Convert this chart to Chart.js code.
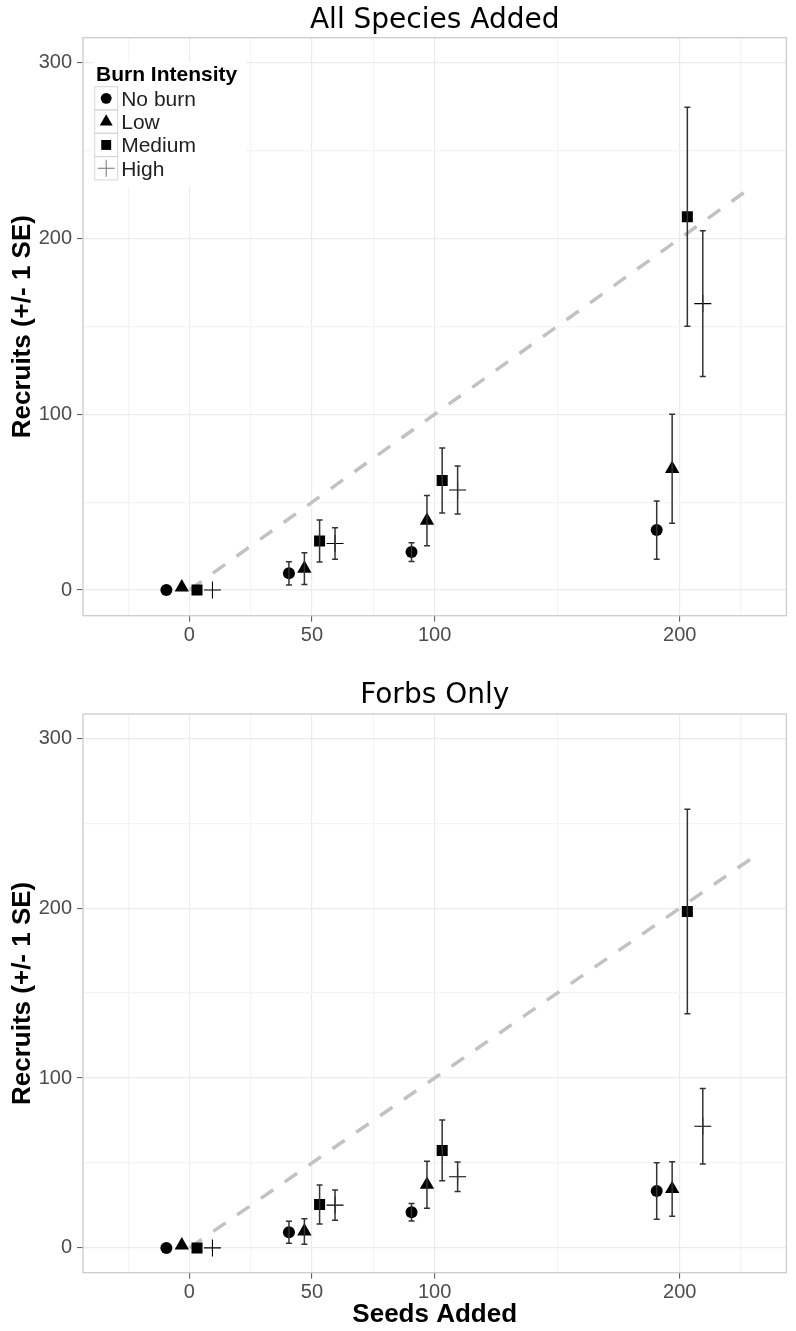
<!DOCTYPE html>
<html>
<head>
<meta charset="utf-8">
<script src="https://cdn.jsdelivr.net/npm/chart.js@4.4.1/dist/chart.umd.min.js"></script>
<style>
  html, body { margin: 0; padding: 0; background: #fff; }
  #wrap { position: relative; width: 796px; height: 1331px; }
  canvas { position: absolute; left: 0; }
</style>
</head>
<body>
<div id="wrap">
  <canvas id="allChart" width="796" height="650" style="top:0"></canvas>
  <canvas id="forbChart" width="796" height="681" style="top:650px"></canvas>
</div>
<script>
// x = seeds added, y = recruits; one value per seed level
const seedLevels = [0, 50, 100, 200];
const burnLevels = ['No burn', 'Low', 'Medium', 'High'];
const xTickLabels = [0, 50, 100, 200];
const xGridValues = [-25, 0, 25, 50, 75, 100, 150, 200, 225];
const yTickLabels = [0, 100, 200, 300];
const yGridValues = [0, 50, 100, 150, 200, 250, 300];
const oneToOneX = [0, 230];

// All species added
const allNoBurn = [0, 9.5, 21.6, 34.1];
const allNoBurnSE = [0, 6.6, 5.3, 16.6];
const allLow = [1.5, 12.2, 39.5, 69];
const allLowSE = [0, 9, 14.3, 31];
const allMedium = [0, 27.9, 62.3, 212.4];
const allMediumSE = [0, 12, 18.5, 62.3];
const allHigh = [0, 26.5, 56.9, 163];
const allHighSE = [0, 9, 13.7, 41.5];

// Forbs only
const forbNoBurn = [0, 9.2, 21, 33.5];
const forbNoBurnSE = [0, 6.5, 5.2, 16.6];
const forbLow = [1.5, 9.7, 37.2, 34.7];
const forbLowSE = [0, 7.5, 13.8, 16];
const forbMedium = [0, 25.5, 57.4, 198];
const forbMediumSE = [0, 11.5, 17.9, 60.2];
const forbHigh = [0, 25.2, 41.9, 71.6];
const forbHighSE = [0, 8.9, 8.7, 22.2];

// dodge so the four burn levels sit side by side
const dodge = [-9.4, -3.1, 3.1, 9.4];
const markers = [
    { style: 'circle', radius: 6 },
    { style: 'triangle', radius: 8.3 },
    { style: 'rect', radius: 7.8 },
    { style: 'cross', radius: 8.5 }
];

const TICK_FONT = { family: '"Liberation Sans", Arial, sans-serif', size: 20 };
const AXIS_TITLE_FONT = { family: '"Liberation Sans", Arial, sans-serif', size: 26, weight: 'bold' };

// panel border on top of the grid
const panelBorder = {
    id: 'panelBorder',
    beforeDatasetsDraw(chart) {
        const { ctx, chartArea: a } = chart;
        ctx.save();
        ctx.strokeStyle = '#cccccc';
        ctx.lineWidth = 1.3;
        ctx.strokeRect(a.left, a.top, a.right - a.left, a.bottom - a.top);
        ctx.restore();
    }
};

// +/- 1 SE error bars, read from dataset.se
const errorBars = {
    id: 'errorBars',
    afterDatasetsDraw(chart) {
        const { ctx, scales: { x, y } } = chart;
        ctx.save();
        ctx.strokeStyle = '#333333';
        ctx.lineWidth = 1.5;
        chart.data.datasets.forEach(ds => {
            if (!ds.se) return;
            ds.data.forEach((p, j) => {
                const se = ds.se[j];
                if (!se) return;
                const px = x.getPixelForValue(p.x);
                const top = y.getPixelForValue(p.y + se);
                const bot = y.getPixelForValue(p.y - se);
                ctx.beginPath();
                ctx.moveTo(px, top);
                ctx.lineTo(px, bot);
                ctx.moveTo(px - 3, top);
                ctx.lineTo(px + 3, top);
                ctx.moveTo(px - 3, bot);
                ctx.lineTo(px + 3, bot);
                ctx.stroke();
            });
        });
        ctx.restore();
    }
};

function drawMarker(ctx, style, radius, x, y) {
    if (Chart.helpers && Chart.helpers.drawPoint) {
        Chart.helpers.drawPoint(ctx, { pointStyle: style, radius: radius, rotation: 0, borderWidth: style === 'cross' ? 1 : 0 }, x, y);
        return;
    }
    ctx.beginPath();
    ctx.arc(x, y, radius, 0, Math.PI * 2);
    ctx.fill();
}

// legend drawn inside the panel, top left
const burnLegend = {
    id: 'burnLegend',
    afterDatasetsDraw(chart, args, opts) {
        if (!opts.show) return;
        const { ctx, chartArea: a } = chart;
        const bx = a.left + 11.7;
        const by = a.top + 49;
        const rowH = 23.3;
        ctx.save();
        ctx.fillStyle = '#ffffff';
        ctx.fillRect(a.left + 10, a.top + 24, 153, 125);
        ctx.fillStyle = '#000';
        ctx.font = 'bold 21px "Liberation Sans", Arial, sans-serif';
        ctx.textBaseline = 'alphabetic';
        ctx.fillText(opts.title, a.left + 13, a.top + 43.5);
        chart.data.datasets.filter(ds => ds.se).forEach((ds, k) => {
            const y0 = by + k * rowH;
            ctx.strokeStyle = '#d6d6d6';
            ctx.lineWidth = 1;
            ctx.strokeRect(bx, y0, 23, rowH);
            const cx = bx + 11.5, cy = y0 + rowH / 2;
            ctx.fillStyle = '#000';
            ctx.strokeStyle = ds.pointStyle === 'cross' ? '#777' : '#000';
            drawMarker(ctx, ds.pointStyle, ds.pointStyle === 'cross' ? 8.5 : ds.pointRadius * 0.9, cx, cy);
            ctx.fillStyle = '#222';
            ctx.font = '21px "Liberation Sans", Arial, sans-serif';
            ctx.fillText(ds.label, bx + 26.5, cy + 7.5);
        });
        ctx.restore();
    }
};

function buildChart(canvasId, titleText, means, ses, cfg) {
    const datasets = burnLevels.map((name, i) => ({
        label: name,
        data: seedLevels.map((s, j) => ({ x: s + dodge[i], y: means[i][j] })),
        se: ses[i],
        pointStyle: markers[i].style,
        pointRadius: markers[i].radius,
        pointHoverRadius: markers[i].radius,
        backgroundColor: '#000',
        borderColor: '#000',
        pointBorderWidth: markers[i].style === 'cross' ? 1.1 : 0,
        showLine: false,
        order: 1
    }));
    datasets.push({
        label: 'one to one',
        data: oneToOneX.map(v => ({ x: v, y: v })),
        showLine: true,
        borderColor: '#c2c2c2',
        borderWidth: 3.5,
        borderDash: [15, 14],
        pointRadius: 0,
        order: 2
    });

    const ctx = document.getElementById(canvasId).getContext('2d');
    return new Chart(ctx, {
        type: 'scatter',
        data: { datasets: datasets },
        plugins: [panelBorder, errorBars, burnLegend],
        options: {
            responsive: false,
            animation: false,
            devicePixelRatio: 1,
            layout: { padding: { left: 0, right: 5.3, top: 0, bottom: 0 } },
            plugins: {
                legend: { display: false },
                tooltip: { enabled: false },
                title: {
                    display: true,
                    fullSize: false,
                    text: titleText,
                    color: '#000',
                    font: { family: '"DejaVu Sans", sans-serif', size: 28, weight: 'normal' },
                    padding: cfg.titlePadding
                },
                burnLegend: { show: cfg.legend, title: 'Burn Intensity' }
            },
            scales: {
                x: {
                    type: 'linear',
                    min: -43.4,
                    max: 243.5,
                    afterBuildTicks: s => { s.ticks = xGridValues.map(v => ({ value: v })); },
                    afterFit: s => { s.height = cfg.xAxisHeight; },
                    ticks: {
                        autoSkip: false,
                        maxRotation: 0,
                        padding: 2,
                        color: '#4d4d4d',
                        font: TICK_FONT,
                        callback: v => xTickLabels.includes(v) ? String(v) : ''
                    },
                    grid: {
                        color: c => (c.tick && xTickLabels.includes(c.tick.value)) ? '#ebebeb' : '#f4f4f4',
                        lineWidth: 1.2,
                        tickLength: 6,
                        tickWidth: 1,
                        tickColor: c => (c.tick && xTickLabels.includes(c.tick.value)) ? '#555' : 'rgba(0,0,0,0)'
                    },
                    border: { display: false },
                    title: {
                        display: !!cfg.xTitle,
                        text: cfg.xTitle || '',
                        color: '#000',
                        font: AXIS_TITLE_FONT,
                        padding: { top: 0, bottom: 1 }
                    }
                },
                y: {
                    type: 'linear',
                    min: -14.6,
                    max: 314.3,
                    afterBuildTicks: s => { s.ticks = yGridValues.map(v => ({ value: v })); },
                    afterFit: s => { s.width = 83; },
                    ticks: {
                        autoSkip: false,
                        padding: 5,
                        color: '#4d4d4d',
                        font: TICK_FONT,
                        callback: v => yTickLabels.includes(v) ? String(v) : ''
                    },
                    grid: {
                        color: c => (c.tick && yTickLabels.includes(c.tick.value)) ? '#ebebeb' : '#f4f4f4',
                        lineWidth: 1.2,
                        tickLength: 6,
                        tickWidth: 1,
                        tickColor: c => (c.tick && yTickLabels.includes(c.tick.value)) ? '#555' : 'rgba(0,0,0,0)'
                    },
                    border: { display: false },
                    title: {
                        display: true,
                        text: 'Recruits (+/- 1 SE)',
                        color: '#000',
                        font: AXIS_TITLE_FONT,
                        padding: { top: 7, bottom: 0 }
                    }
                }
            }
        }
    });
}

buildChart('allChart', 'All Species Added',
    [allNoBurn, allLow, allMedium, allHigh],
    [allNoBurnSE, allLowSE, allMediumSE, allHighSE],
    { titlePadding: { top: 4.1, bottom: 0 }, xAxisHeight: 34.3, legend: true });

buildChart('forbChart', 'Forbs Only',
    [forbNoBurn, forbLow, forbMedium, forbHigh],
    [forbNoBurnSE, forbLowSE, forbMediumSE, forbHighSE],
    { titlePadding: { top: 29, bottom: 1.4 }, xAxisHeight: 58.3, legend: false, xTitle: 'Seeds Added' });
</script>
</body>
</html>
